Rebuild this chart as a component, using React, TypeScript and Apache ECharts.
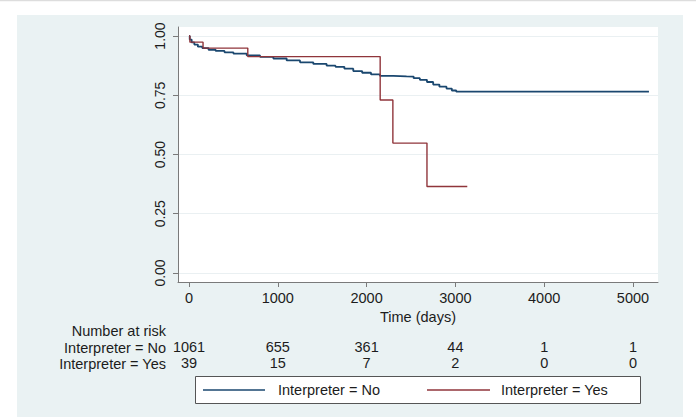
import React, { useEffect, useRef } from "react";
import * as echarts from "echarts";

const xTicks = [0, 1000, 2000, 3000, 4000, 5000];
const yTicks = [0, 0.25, 0.5, 0.75, 1];
const riskNo = [1061, 655, 361, 44, 1, 1];
const riskYes = [39, 15, 7, 2, 0, 0];
const groupNames = ["Interpreter = No", "Interpreter = Yes"];
const riskTitle = "Number at risk";
const xTitle = "Time (days)";

// Kaplan-Meier estimates: [time, survival]
const survNo: [number, number][] = [
  [0, 1], [8, 0.985], [30, 0.973], [60, 0.964], [100, 0.955], [150, 0.949],
  [220, 0.942], [300, 0.937], [400, 0.931], [500, 0.926], [650, 0.918],
  [800, 0.912], [950, 0.905], [1100, 0.897], [1250, 0.889], [1400, 0.882],
  [1550, 0.875], [1650, 0.87], [1750, 0.862], [1850, 0.852], [1950, 0.845],
  [2050, 0.838], [2150, 0.832], [2300, 0.83], [2450, 0.829], [2530, 0.822],
  [2600, 0.815], [2680, 0.806], [2750, 0.795], [2820, 0.786], [2900, 0.778],
  [2960, 0.77], [3010, 0.765], [5180, 0.765],
];
const survYes: [number, number][] = [
  [0, 1], [10, 0.974], [158, 0.949], [662, 0.913], [2153, 0.73],
  [2296, 0.548], [2680, 0.365], [3134, 0.365],
];

const colNo = "#1a476f";
const colYes = "#90353b";
const FONT = "Liberation Sans, Arial, Helvetica, sans-serif";
const TXT = "#1c1c1c";
const AX = "#7a7a7a";
const FS = 14.5;

export default function App() {
  const ref = useRef<HTMLDivElement>(null);
  useEffect(() => {
    if (!ref.current) return;
    const chart = echarts.init(ref.current, null, { renderer: "svg" });
    const riskAxis = (vals: number[], offset: number) => ({
      type: "value",
      gridIndex: 0,
      position: "bottom",
      offset,
      min: -124,
      max: 5282,
      axisLine: { show: false },
      axisTick: { show: false },
      splitLine: { show: false },
      axisLabel: {
        customValues: xTicks,
        margin: 8,
        fontSize: FS,
        lineHeight: 14,
        fontFamily: FONT,
        color: TXT,
        formatter: (v: number) => {
          const i = xTicks.indexOf(v);
          return i >= 0 ? String(vals[i]) : "";
        },
      },
    });
    const txt = (text: string, x: number, y: number, align = "right") => ({
      type: "text",
      x,
      y,
      style: { text, align, verticalAlign: "middle", fontSize: FS, lineHeight: 14, fontFamily: FONT, fill: TXT },
    });
    chart.setOption({
      animation: false,
      backgroundColor: "#ffffff",
      textStyle: { fontFamily: FONT },
      grid: { left: 178, top: 27, right: 38, bottom: 135, containLabel: false },
      xAxis: [
        {
          type: "value",
          min: -124,
          max: 5282,
          name: xTitle,
          nameLocation: "middle",
          nameGap: 24,
          nameTextStyle: { fontSize: FS, fontFamily: FONT, color: TXT },
          axisLine: { show: true, onZero: false, lineStyle: { color: AX, width: 1 } },
          axisTick: { show: true, length: 5, customValues: xTicks, lineStyle: { color: AX } },
          axisLabel: {
            customValues: xTicks,
            margin: 8,
            fontSize: FS,
            fontFamily: FONT,
            color: TXT,
            formatter: (v: number) => String(v),
          },
          splitLine: { show: false },
        },
        riskAxis(riskNo, 50),
        riskAxis(riskYes, 66),
      ],
      yAxis: {
        type: "value",
        min: -0.038,
        max: 1.038,
        axisLine: { show: true, onZero: false, lineStyle: { color: AX, width: 1 } },
        axisTick: { show: true, length: 5, customValues: yTicks, lineStyle: { color: AX } },
        axisLabel: {
          customValues: yTicks,
          rotate: 90,
          margin: 11,
          fontSize: 14,
          fontFamily: FONT,
          color: TXT,
          formatter: (v: number) => v.toFixed(2),
        },
        splitLine: { show: true, lineStyle: { color: "#eaf0f2", width: 1 } },
      },
      series: [
        {
          name: groupNames[0],
          type: "line",
          step: "end",
          data: survNo,
          showSymbol: false,
          lineStyle: { color: colNo, width: 1.8 },
          itemStyle: { color: colNo },
          z: 3,
        },
        {
          name: groupNames[1],
          type: "line",
          step: "end",
          data: survYes,
          showSymbol: false,
          lineStyle: { color: colYes, width: 1.4 },
          itemStyle: { color: colYes },
          z: 4,
        },
      ],
      graphic: [
        { type: "line", z: -20, shape: { x1: 0, y1: 0.5, x2: 696, y2: 0.5 }, style: { stroke: "#dddddd", lineWidth: 1.5 } },
        { type: "rect", z: -20, shape: { x: 17, y: 15, width: 666, height: 402 }, style: { fill: "#eaf2f3" } },
        { type: "rect", z: -19, shape: { x: 178, y: 27, width: 480, height: 255 }, style: { fill: "#ffffff" } },
        txt(riskTitle, 166, 331),
        txt(groupNames[0], 166, 348),
        txt(groupNames[1], 166, 364),
        { type: "rect", shape: { x: 195.5, y: 376.5, width: 445, height: 27 }, style: { fill: "#ffffff", stroke: "#555555", lineWidth: 1 } },
        { type: "line", shape: { x1: 203, y1: 390, x2: 265, y2: 390 }, style: { stroke: colNo, lineWidth: 1.4 } },
        txt(groupNames[0], 278, 390, "left"),
        { type: "line", shape: { x1: 427, y1: 390, x2: 490, y2: 390 }, style: { stroke: colYes, lineWidth: 1.4 } },
        txt(groupNames[1], 501, 390, "left"),
      ],
    });
    return () => chart.dispose();
  }, []);
  return (
    <div
      ref={ref}
      style={{ position: "absolute", left: 0, top: 0, width: 696, height: 417 }}
    />
  );
}
